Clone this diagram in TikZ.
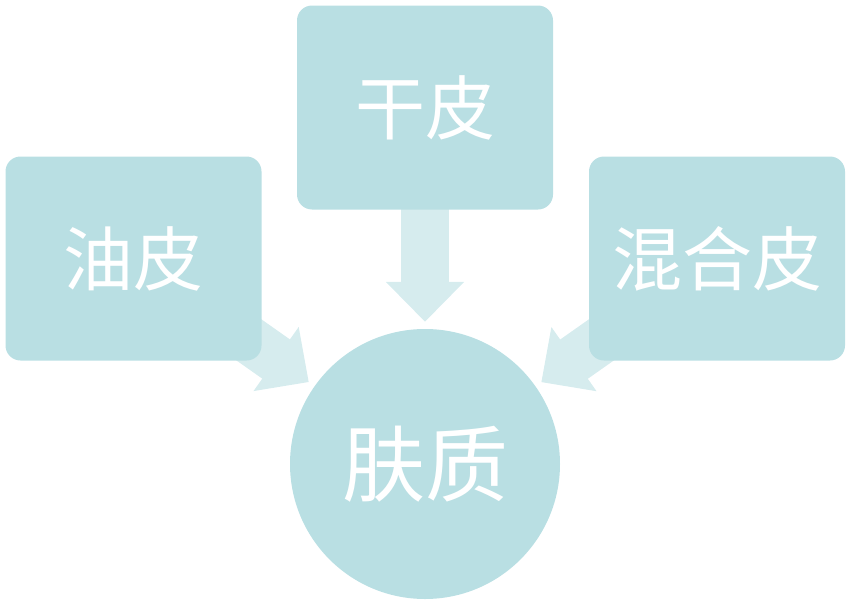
\documentclass[tikz,border=0pt]{standalone}
\usepackage{fontspec}
\newfontfamily\cjk{Noto Sans CJK SC}
\usetikzlibrary{arrows.meta, positioning, backgrounds}
\definecolor{boxteal}{RGB}{185,223,227}
\definecolor{arrowteal}{RGB}{214,236,238}

\begin{document}
\begin{tikzpicture} [x=1pt, y=-1pt, on grid,
        skinbox/.style={fill=boxteal, rounded corners=15pt, minimum width=256pt, minimum height=204pt,
                        text=white, font=\cjk\fontsize{70}{70}\selectfont},
        skinball/.style={circle, fill=boxteal, minimum size=270pt, text=white,
                         font=\cjk\fontsize{83}{83}\selectfont},
        flow/.style={arrowteal, line width=48pt, -{Triangle[length=40pt, width=76pt]}, shorten >=7pt}]
        \useasboundingbox (0,0) rectangle (849,605);

        \node (skin) [skinball] at (425,464) {肤质};
        \node (dry) [skinbox, above= 356.5pt of skin] {干皮};
        \node (oily) [skinbox, above left= 205.5pt and 291.5pt of skin] {油皮};
        \node (mixed) [skinbox, above right= 205.5pt and 292pt of skin] {混合皮};

        \begin{scope}[on background layer]
            \draw [flow] (dry.center) -- (skin);
            \draw [flow] (oily.center) -- (skin);
            \draw [flow] (mixed.center) -- (skin);
        \end{scope}
    \end{tikzpicture}
\end{document}
